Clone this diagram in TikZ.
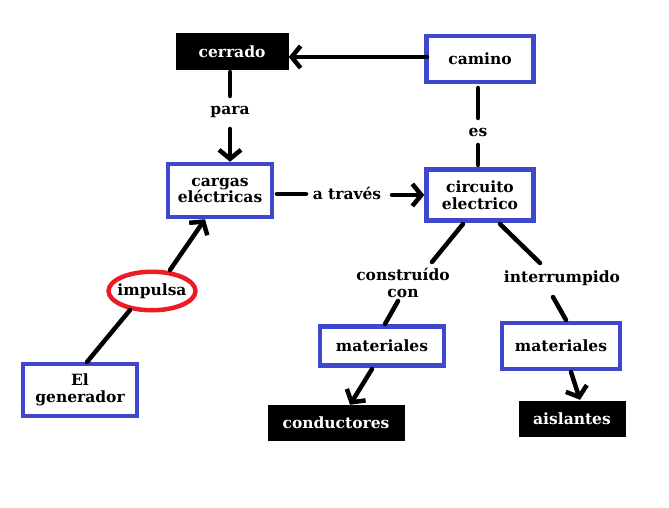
\documentclass[tikz,border=0pt]{standalone}
\usepackage{fontspec}
\setmainfont{DejaVu Serif}
\usetikzlibrary{arrows.meta,shapes.geometric,calc}
\definecolor{pblue}{RGB}{63,72,204}
\definecolor{pred}{RGB}{237,28,36}
\tikzset{
  x=1pt,y=-1pt,
  every node/.style={font=\fontsize{15.5}{16.5}\selectfont\bfseries, align=center, inner sep=0pt},
  bluebox/.style={draw=pblue, line width=4.5pt, fill=white, anchor=center},
  blackbox/.style={fill=black, text=white},
  conn/.style={line width=4.5pt, line cap=round},
  arr/.style={conn, -{Straight Barb[length=9pt,width=22pt,line width=4.5pt]}},
}
\begin{document}
\begin{tikzpicture}
\useasboundingbox (0,0) rectangle (669,508);
% nodes
\node[blackbox, minimum width=113pt, minimum height=37pt] (cerrado) at (232,51.5) {cerrado};
\node[bluebox, minimum width=107pt, minimum height=46pt] (camino) at (480,59) {camino};
\node[bluebox, minimum width=104pt, minimum height=53pt] (cargas) at (220,190.5) {cargas\\eléctricas};
\node[bluebox, minimum width=107pt, minimum height=51pt] (circuito) at (480,195) {circuito\\electrico};
\node[draw=pred, line width=4.5pt, ellipse, inner xsep=-3.8pt, minimum width=85pt, minimum height=38.5pt, fill=white] (impulsa) at (152,291) {impulsa};
\node[bluebox, minimum width=114pt, minimum height=52pt] (gen) at (80,390) {El\\generador};
\node[bluebox, minimum width=124pt, minimum height=39pt] (mat1) at (382,346) {materiales};
\node[bluebox, minimum width=118pt, minimum height=46pt] (mat2) at (561,346) {materiales};
\node[blackbox, minimum width=137pt, minimum height=36pt] (cond) at (336,423) {conductores};
\node[blackbox, minimum width=107pt, minimum height=36pt] (aisl) at (572,419) {aislantes};
% labels
\node (para) at (230,112) {para};
\node (es) at (478,132) {es};
\node (atraves) at (347,193) {a través};
\node (construido) at (403,283) {construído\\con};
\node (interr) at (562,278) {interrumpido};
% coordinates
\coordinate (cw) at (427,57);
\coordinate (c1) at (230,72);
\coordinate (c2) at (230,96);
\coordinate (c3) at (230,129);
\coordinate (e1) at (478,88);
\coordinate (e2) at (478,118);
\coordinate (e3) at (478,145);
\coordinate (e4) at (478,165);
\coordinate (a1) at (277,194);
\coordinate (a2) at (306,194);
\coordinate (a3) at (392,195);
\coordinate (k1) at (463,224);
\coordinate (k2) at (432,262);
\coordinate (k3) at (398,301);
\coordinate (k4) at (385,324);
\coordinate (i1) at (500,224);
\coordinate (i2) at (540,263);
\coordinate (i3) at (553,297);
\coordinate (i4) at (566,320);
\coordinate (m1) at (372,369);
\coordinate (m2) at (571,372);
\coordinate (g1) at (87,362);
\coordinate (g2) at (130,310);
\coordinate (p1) at (170,270);
% connectors
\draw[arr] (cw) -- (cerrado.east |- cw);
\draw[conn] (c1) -- (c2);
\draw[arr] (c3) -- (cargas.north -| c3);
\draw[conn] (e1) -- (e2);
\draw[conn] (e3) -- (e4);
\draw[conn] (a1) -- (a2);
\draw[arr] (a3) -- (circuito.west |- a3);
\draw[conn] (k1) -- (k2);
\draw[conn] (k3) -- (k4);
\draw[conn] (i1) -- (i2);
\draw[conn] (i3) -- (i4);
\draw[arr] (m1) -- ($(cond.north)+(14,0)$);
\draw[arr] (m2) -- ($(aisl.north)+(8,-1)$);
\draw[conn] (g1) -- (g2);
\draw[arr] (p1) -- ($(cargas.south)+(-15,0)$);
\end{tikzpicture}
\end{document}
